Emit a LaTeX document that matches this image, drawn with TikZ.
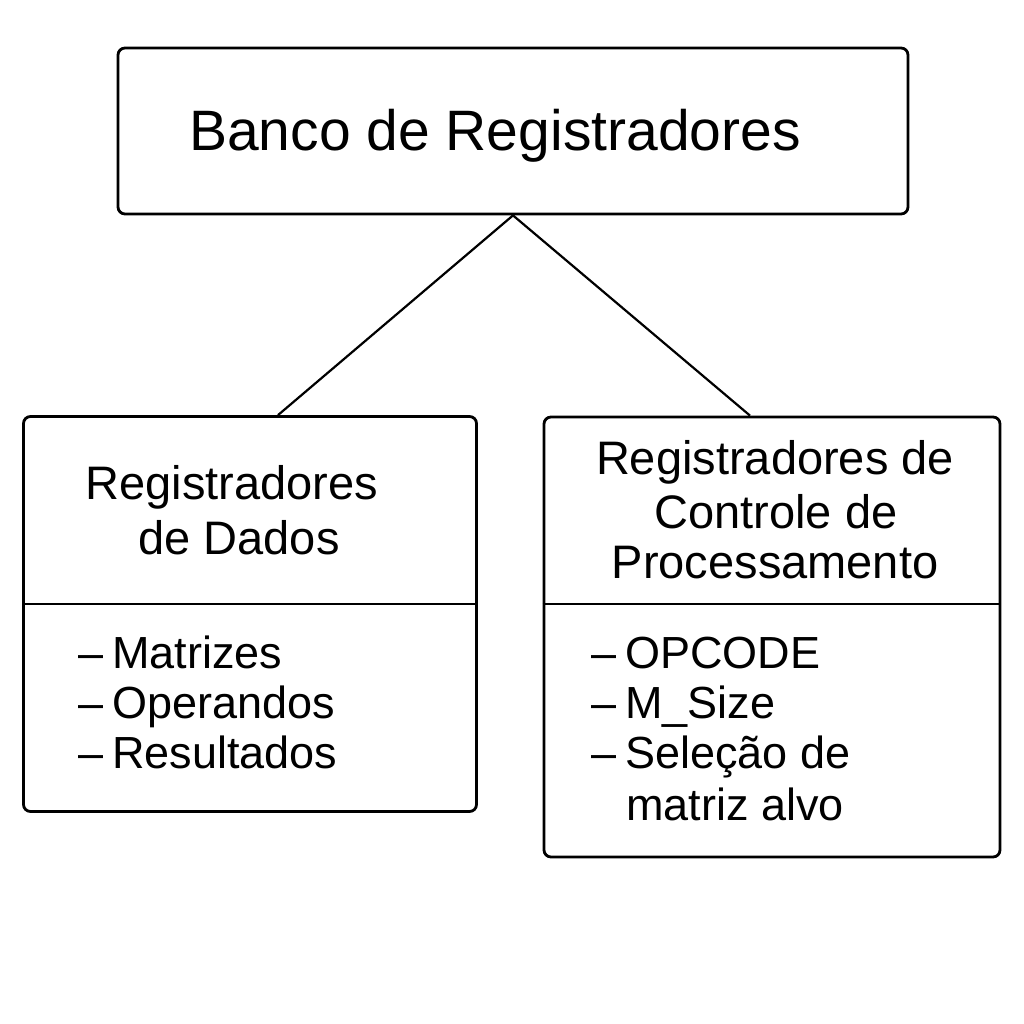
\documentclass[tikz,border=0pt]{standalone}
\usepackage{fontspec}
\setmainfont{Liberation Sans}
\usetikzlibrary{calc}
\begin{document}
\begin{tikzpicture}[x=1pt,y=-1pt,
  box/.style={draw=black,line width=2.8pt,rounded corners=7pt,rectangle,inner sep=0pt,fill=white},
  conn/.style={draw=black,line width=2.2pt},
  divl/.style={draw=black,line width=2.8pt},
  ttl/.style={font=\fontsize{57}{66}\selectfont,inner sep=0pt,anchor=base west},
  hdr/.style={font=\fontsize{47}{54}\selectfont,inner sep=0pt,anchor=base},
  itm/.style={font=\fontsize{45}{52}\selectfont,inner sep=0pt,anchor=base west}]
\useasboundingbox[fill=white] (0,0) rectangle (1024,1024);
% boxes
\node[box,minimum width=790pt,minimum height=166pt] (top) at (513,131) {};
\node[box,minimum width=453pt,minimum height=395pt] (lbox) at (250,614) {};
\node[box,minimum width=456pt,minimum height=440pt] (rbox) at (772,637) {};
% dividers
\coordinate (dv) at (0,604);
\draw[divl] (lbox.west |- dv) -- (lbox.east |- dv);
\draw[divl] (rbox.west |- dv) -- (rbox.east |- dv);
% connectors
\draw[conn] (top.south) -- ($(lbox.north)+(28,0)$);
\draw[conn] (top.south) -- ($(rbox.north)+(-22,0)$);
% title
\node[ttl] (title) at (189,151) {Banco de Registradores};
% left header
\node[hdr] (lh1) at (232,499) {Registradores};
\node[hdr] (lh2) at (239,554) {de Dados};
% right header
\node[hdr] (rh1) at (775,474) {Registradores de};
\node[hdr] (rh2) at (776,528) {Controle de};
\node[hdr] (rh3) at (775,578) {Processamento};
% left items
\node[itm] (li1) at (78,668) {–\kern0.2em Matrizes};
\node[itm] (li2) at (78,718) {–\kern0.2em Operandos};
\node[itm] (li3) at (78,768) {–\kern0.2em Resultados};
% right items
\node[itm] (ri1) at (591,668) {–\kern0.2em OPCODE};
\node[itm] (ri2) at (591,718) {–\kern0.2em M\_Size};
\node[itm] (ri3) at (591,768) {–\kern0.2em Seleção de};
\node[itm] (ri4) at (626,820) {matriz alvo};
\end{tikzpicture}
\end{document}
